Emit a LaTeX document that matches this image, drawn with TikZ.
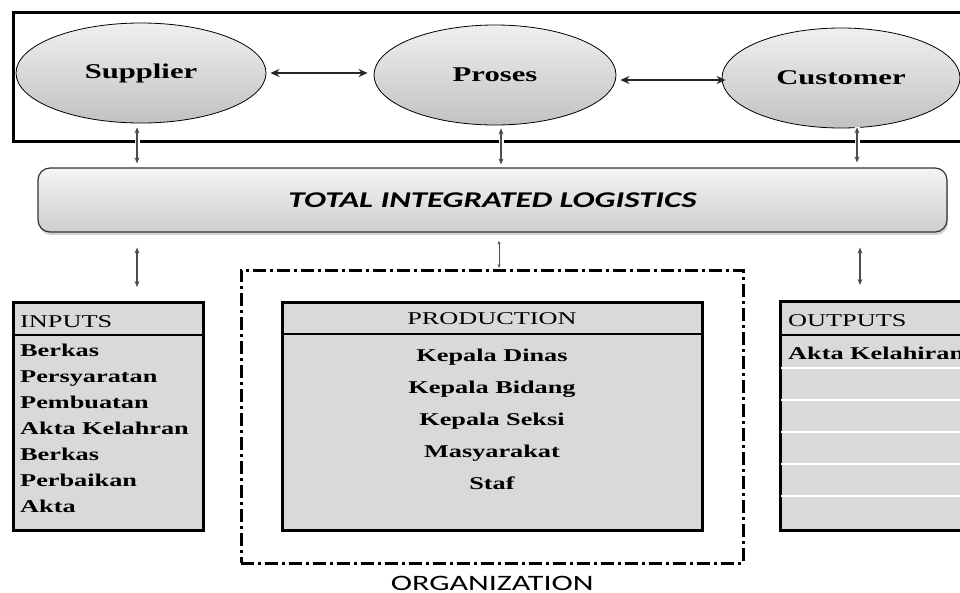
\documentclass[tikz,border=0pt]{standalone}
\usepackage{fontspec}
\setmainfont{Liberation Serif}[FakeStretch=1.46]
\newfontfamily\calib{Carlito}[FakeStretch=1.46]
\usetikzlibrary{shapes.geometric,arrows.meta,calc,shadows}
\definecolor{boxgray}{HTML}{D9D9D9}
\tikzset{
  ell/.style={ellipse, draw=black, line width=0.8pt, top color=gray!12, bottom color=gray!48,
    minimum width=250pt, minimum height=100pt, inner sep=0pt, font=\fontsize{21}{21}\selectfont\bfseries},
  tilbar/.style={rounded corners=12pt, draw=black!80, line width=1.2pt, top color=gray!8, bottom color=gray!38,
    minimum width=909pt, minimum height=64pt, drop shadow={opacity=0.35,shadow xshift=1pt,shadow yshift=-3pt},
    font=\calib\bfseries\itshape\fontsize{22.5}{22.5}\selectfont},
  box/.style={draw=black, line width=3pt, fill=boxgray, anchor=north west, inner sep=0pt},
  hdr/.style={font=\fontsize{18}{18}\selectfont, inner sep=0pt},
  item/.style={font=\fontsize{18}{18}\selectfont\bfseries, inner sep=0pt},
  harr/.style={{Stealth[length=9pt,width=8pt]}-{Stealth[length=9pt,width=8pt]}, line width=1.8pt, draw=black!85},
  varr/.style={{Stealth[length=6pt,width=5pt]}-{Stealth[length=6pt,width=5pt]}, line width=1.4pt, draw=black!70,
    preaction={draw=white, line width=5pt, arrows=-}},
  orgbox/.style={draw=black, line width=2.5pt, dash pattern=on 13pt off 4pt on 3pt off 4pt, anchor=north west, inner sep=0pt},
}
\begin{document}
\begin{tikzpicture}[x=1pt,y=-1pt]
\useasboundingbox (0,0) rectangle (960,592);
\clip (0,0) rectangle (960,592);
\fill[white] (0,0) rectangle (960,592);
% top frame
\node[draw=black, line width=3pt, anchor=north west, minimum width=968pt, minimum height=129pt, inner sep=0pt] (frame) at (12,11) {};
% ellipses
\node[ell] (sup) at (141,73) {Supplier};
\node[ell, minimum width=242pt] (pro) at (495,75) {Proses};
\node[ell, minimum width=238pt] (cus) at (841,78) {Customer};
% horizontal arrows
\draw[harr] ($(sup.east)+(4,0)$) -- ($(pro.west)+(-6,-2)$);
\draw[harr] ($(pro.east)+(4,5)$) -- ($(cus.west)+(4,2)$);
% bar
\node[tilbar] (til) at (492.5,200) {TOTAL INTEGRATED LOGISTICS};
% upper vertical arrows
\draw[varr] ($(sup.south)+(-4,4)$) -- ($(til.north -| sup.south)+(-4,-4)$);
\draw[varr] ($(pro.south)+(6,3)$) -- ($(til.north -| pro.south)+(6,-3)$);
\draw[varr] ($(cus.south)+(16,-1)$) -- ($(til.north -| cus.south)+(16,-5)$);
% boxes
\node[box, minimum width=190pt, minimum height=228pt] (inputs) at (12,301) {};
\node[box, minimum width=420pt, minimum height=228pt] (prod) at (281,301) {};
\node[box, minimum width=200pt, minimum height=229pt] (outputs) at (779,300) {};
\draw[line width=2.5pt] ($(inputs.north west)+(0,34)$) -- ($(inputs.north east)+(0,34)$);
\draw[line width=2.5pt] ($(prod.north west)+(0,33)$) -- ($(prod.north east)+(0,33)$);
\draw[line width=2.5pt] ($(outputs.north west)+(0,35)$) -- ($(outputs.north east)+(0,35)$);
\foreach \yy in {68,100,132,164,196}
  \draw[white, line width=1.5pt] ($(outputs.north west)+(2,\yy)$) -- ($(outputs.north east)+(-2,\yy)$);
% organization
\node[orgbox, minimum width=502pt, minimum height=293pt] (org) at (240,269) {};
\node[font=\calib\fontsize{22}{22}\selectfont, inner sep=0pt, anchor=base] (orglbl) at ($(org.south)+(0,26)$) {ORGANIZATION};
% lower arrows
\draw[varr] ($(til.south -| sup.south)+(-4,15)$) -- ($(inputs.north -| sup.south)+(-4,-14)$);
\draw[varr, {Stealth[length=4pt,width=3pt]}-{Stealth[length=4pt,width=3pt]}, line width=1pt] ($(til.south -| pro.south)+(4,8)$) -- ($(org.north -| pro.south)+(4,-1)$);
\draw[varr] ($(til.south -| cus.south)+(19,15)$) -- ($(outputs.north -| cus.south)+(19,-15)$);
% texts
\node[hdr, anchor=base west] (inhdr) at (20,327) {INPUTS};
\node[item, anchor=base west] (in1) at (20,356) {Berkas};
\node[item, anchor=base west] (in2) at (20,382) {Persyaratan};
\node[item, anchor=base west] (in3) at (20,408) {Pembuatan};
\node[item, anchor=base west] (in4) at (20,434) {Akta Kelahran};
\node[item, anchor=base west] (in5) at (20,460) {Berkas};
\node[item, anchor=base west] (in6) at (20,486) {Perbaikan};
\node[item, anchor=base west] (in7) at (20,512) {Akta};
\node[hdr, anchor=base] (prhdr) at (492,324) {PRODUCTION};
\node[item, anchor=base] (pr1) at (492,361) {Kepala Dinas};
\node[item, anchor=base] (pr2) at (492,393) {Kepala Bidang};
\node[item, anchor=base] (pr3) at (492,425) {Kepala Seksi};
\node[item, anchor=base] (pr4) at (492,457) {Masyarakat};
\node[item, anchor=base] (pr5) at (492,489) {Staf};
\node[hdr, anchor=base west] (outhdr) at (788,326) {OUTPUTS};
\node[item, anchor=base west] (out1) at (788,359) {Akta Kelahiran};
\end{tikzpicture}
\end{document}
